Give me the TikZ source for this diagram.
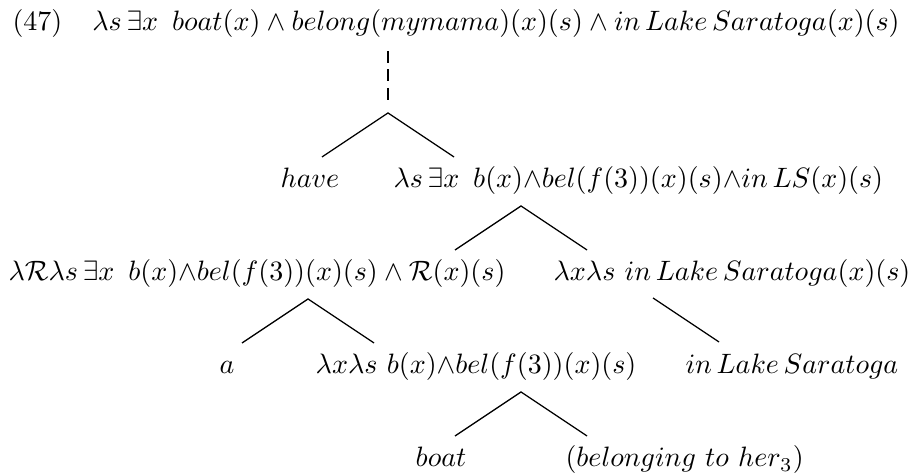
\documentclass[tikz,border=0pt]{standalone}
\tikzset{
  lbl/.style={inner sep=0pt,anchor=base},
  lblw/.style={inner sep=0pt,anchor=base west},
  leg/.style={line width=0.45pt},
  dots/.style={line width=0.9pt,dash pattern=on 4.2pt off 2.4pt}
}
\begin{document}
\begin{tikzpicture}[x=0.357pt,y=-0.357pt]
			\useasboundingbox (0,0) rectangle (910,476);
			\def\w{66} % half width of a branch
			\def\h{44} % height of a branch
			% rows of the tree
			\node[lblw] (ex) at (12,31) {$(47)$};
			\node[lbl] (top) at (496,31) {$\lambda s\,\exists x\ \,boat(x)\wedge belong(mymama)(x)(s)\wedge in\,Lake\,Saratoga(x)(s)$};
			\node[lbl] (have) at (310,188) {$have$};
			\node[lblw] (vp) at (393,188) {$\lambda s\,\exists x\ \,b(x){\wedge}bel(f(3))(x)(s){\wedge}in\,LS(x)(s)$};
			\node[lblw] (dp) at (8,281) {$\lambda\mathcal{R}\lambda s\,\exists x\ \,b(x){\wedge}bel(f(3))(x)(s)\wedge\mathcal{R}(x)(s)$};
			\node[lbl] (pp) at (732,281) {$\lambda x\lambda s\ in\,Lake\,Saratoga(x)(s)$};
			\node[lbl] (det) at (227,374) {$a$};
			\node[lbl] (np) at (476,374) {$\lambda x\lambda s\ b(x){\wedge}bel(f(3))(x)(s)$};
			\node[lbl] (loc) at (792,374) {$in\,Lake\,Saratoga$};
			\node[lbl] (boat) at (441,467) {$boat$};
			\node[lblw] (bel) at (565,467) {$(belonging\ to\ her_3)$};
			% branching points
			\foreach \n/\x/\y in {t1/388/113,t2/521/206,t3/308/299,t4/653/298,t5/521/392}{
				\coordinate (\n) at (\x,\y);
				\coordinate (\n-l) at (\x-\w,\y+\h);
				\coordinate (\n-r) at (\x+\w,\y+\h);
			}
			\coordinate (d0) at (388,51);
			\coordinate (d1) at (388,101);
			\draw[dots] (d0) -- (d1);
			\foreach \n in {t1,t2,t3,t5}{
				\draw[leg] (\n-l) -- (\n) -- (\n-r);
			}
			\draw[leg] (t4) -- (t4-r);
		\end{tikzpicture}
\end{document}
